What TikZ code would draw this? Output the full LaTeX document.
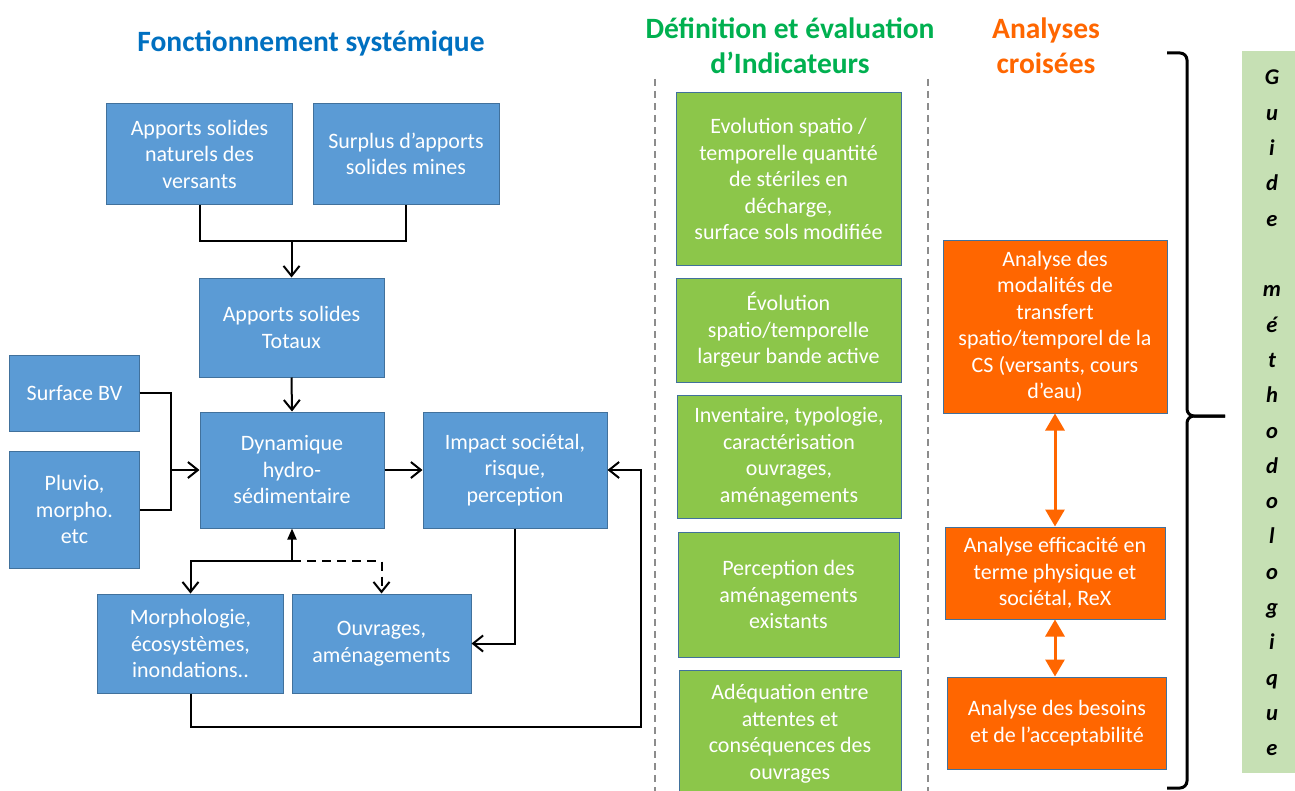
\documentclass[tikz,border=0pt]{standalone}
\usepackage{fontspec}
\setmainfont{Carlito}
\usetikzlibrary{arrows.meta}
\definecolor{bluefill}{HTML}{5B9BD5}
\definecolor{boxedge}{HTML}{41719C}
\definecolor{greenfill}{HTML}{8CC64A}
\definecolor{orangefill}{HTML}{FF6600}
\definecolor{titleblue}{HTML}{0070C0}
\definecolor{titlegreen}{HTML}{00B050}
\definecolor{titleorange}{HTML}{FF6600}
\definecolor{guidefill}{HTML}{C6E0B4}
\definecolor{divgray}{HTML}{8C8C8C}
\begin{document}
\begin{tikzpicture}[x=1bp,y=-1bp,
  box/.style={draw=boxedge, line width=1bp, text=white, align=center, inner sep=0pt,
    font=\fontsize{22bp}{26.5bp}\selectfont},
  bluebox/.style={box, fill=bluefill},
  greenbox/.style={box, fill=greenfill},
  orangebox/.style={box, fill=orangefill},
  title/.style={align=center, inner sep=0pt, font=\fontsize{29.5bp}{35bp}\selectfont\bfseries},
  conn/.style={line width=2bp, draw=black},
  arr/.style={conn, -{Straight Barb[length=10bp,width=16bp]}},
  dashconn/.style={conn, dash pattern=on 9bp off 6bp},
  divider/.style={draw=divgray, line width=2bp, dash pattern=on 7bp off 5bp},
  oarr/.style={draw=orangefill, line width=3bp, {Triangle[length=17bp,width=19bp]}-{Triangle[length=17bp,width=19bp]}},
  bracestyle/.style={draw=black, line width=3bp, rounded corners=7bp},
  letter/.style={inner sep=0pt, font=\fontsize{22.5bp}{26bp}\selectfont\bfseries\itshape},
]
\useasboundingbox (0,0) rectangle (1295,791);

% titles
\node[title, text=titleblue] (t1) at (311,43.5) {Fonctionnement systémique};
\node[title, text=titlegreen] (t2) at (790,45.5) {Définition et évaluation\\d’Indicateurs};
\node[title, text=titleorange] (t3) at (1046,45.5) {Analyses\\croisées};

% dividers
\coordinate (d1a) at (655,79); \coordinate (d1b) at (655,795);
\coordinate (d2a) at (928,79); \coordinate (d2b) at (928,795);
\draw[divider] (d1a) -- (d1b);
\draw[divider] (d2a) -- (d2b);

% blue boxes
\node[bluebox, minimum width=185bp, minimum height=100bp] (b1) at (199.5,154) {Apports solides\\naturels des\\versants};
\node[bluebox, minimum width=186bp, minimum height=100bp] (b2) at (406,154) {Surplus d’apports\\solides mines};
\node[bluebox, minimum width=185bp, minimum height=99bp] (b3) at (291.5,327.5) {Apports solides\\Totaux};
\node[bluebox, minimum width=129bp, minimum height=76bp] (bsurf) at (74.5,393) {Surface BV};
\node[bluebox, minimum width=129bp, minimum height=117bp] (bpluv) at (74.5,509.5) {Pluvio,\\morpho.\\etc};
\node[bluebox, minimum width=184bp, minimum height=116bp] (bdyn) at (292,470) {Dynamique\\hydro-\\sédimentaire};
\node[bluebox, minimum width=184bp, minimum height=116bp] (bimp) at (515,470) {Impact sociétal,\\risque,\\perception};
\node[bluebox, minimum width=185bp, minimum height=99bp] (bmorph) at (190.5,643.5) {Morphologie,\\écosystèmes,\\inondations..};
\node[bluebox, minimum width=179bp, minimum height=99bp] (bouv) at (381.5,643.5) {Ouvrages,\\aménagements};

% connectors (left part)
\coordinate (m1) at (291.5,241);
\draw[conn] (b1.south) |- (m1) -| (b2.south);
\draw[arr] (m1) -- (b3.north);
\coordinate (m2) at (171,470);
\draw[conn] (bsurf.east) -| (m2) |- (bpluv.east);
\draw[arr] (m2) -- (bdyn.west);
\draw[arr] (b3.south) -- (bdyn.north);
\draw[arr] (bdyn.east) -- (bimp.west);
\coordinate (m3) at (292,561);
\draw[conn, {Straight Barb[length=10bp,width=16bp]}-{Triangle[length=11bp,width=9bp]}] (bmorph.north) |- (m3) -- (bdyn.south);
\draw[dashconn, -{Straight Barb[length=10bp,width=16bp]}] (m3) -| (bouv.north);
\draw[arr] (bimp.south) |- (bouv.east);
\coordinate (m4) at (641,727);
\draw[arr] (bmorph.south) |- (m4) |- (bimp.east);

% green boxes
\node[greenbox, minimum width=225bp, minimum height=172bp] (g1) at (788.5,179) {Evolution spatio /\\temporelle quantité\\de stériles en\\décharge,\\surface sols modifiée};
\node[greenbox, minimum width=225bp, minimum height=104bp] (g2) at (788.5,330) {Évolution\\spatio/temporelle\\largeur bande active};
\node[greenbox, minimum width=224bp, minimum height=123bp] (g3) at (789,456.5) {Inventaire, typologie,\\caractérisation\\ouvrages,\\aménagements};
\node[greenbox, minimum width=221bp, minimum height=125bp] (g4) at (788.5,594.5) {Perception des\\aménagements\\existants};
\node[greenbox, minimum width=222bp, minimum height=127bp] (g5) at (790,733.5) {Adéquation entre\\attentes et\\conséquences des\\ouvrages};

% orange boxes
\node[orangebox, minimum width=224bp, minimum height=173bp] (o1) at (1055,326.5) {Analyse des\\modalités de\\transfert\\spatio/temporel de la\\CS (versants, cours\\d’eau)};
\node[orangebox, minimum width=220bp, minimum height=92bp] (o2) at (1055,573) {Analyse efficacité en\\terme physique et\\sociétal, ReX};
\node[orangebox, minimum width=219bp, minimum height=92bp] (o3) at (1057,723) {Analyse des besoins\\et de l’acceptabilité};
\draw[oarr] (o1.south) -- (o1.south |- o2.north);
\draw[oarr] (o2.south) -- (o2.south |- o3.north);

% brace
\coordinate (br1) at (1167,53);
\coordinate (br2) at (1187,53);
\coordinate (br3) at (1187,416);
\coordinate (br4) at (1225,416);
\coordinate (br5) at (1187,788);
\coordinate (br6) at (1167,788);
\draw[bracestyle] (br1) -- (br2) -- (br3) -- (br4);
\draw[bracestyle] (br4) -- (br3) -- (br5) -- (br6);

% guide box
\node[fill=guidefill, draw=none, minimum width=60bp, minimum height=722bp, inner sep=0pt] (guide) at (1272,412) {};
\foreach \l/\i in {G/0,u/1,i/2,d/3,e/4,m/6,é/7,t/8,h/9,o/10,d/11,o/12,l/13,o/14,g/15,i/16,q/17,u/18,e/19}
  \node[letter, anchor=base] (L\i) at (1272,85+35.3*\i) {\l};
\end{tikzpicture}
\end{document}
